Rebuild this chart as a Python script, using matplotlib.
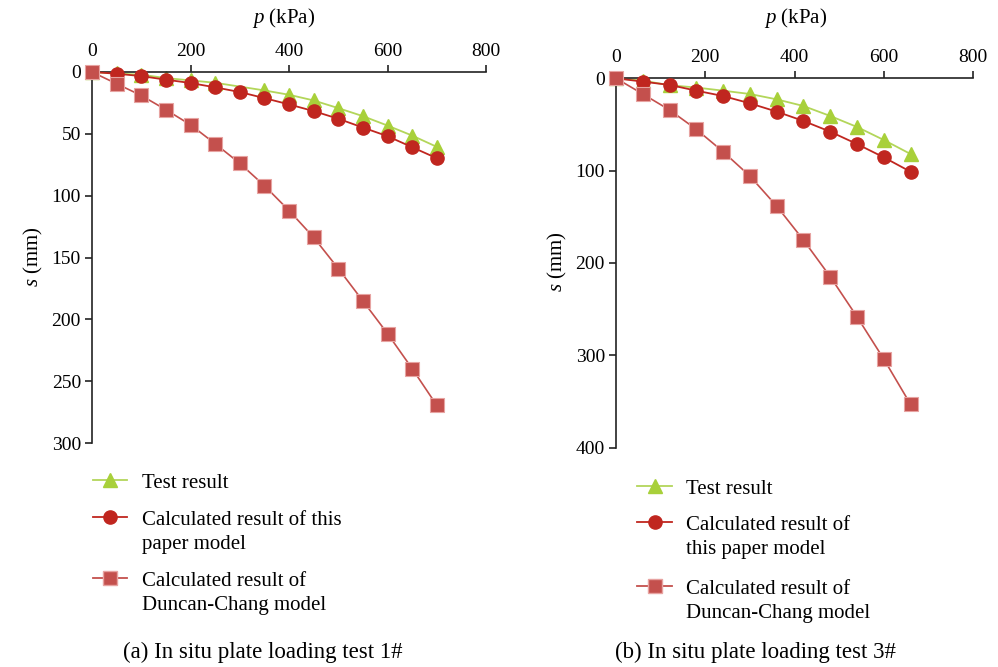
import matplotlib
matplotlib.use("Agg")
import matplotlib.pyplot as plt
from matplotlib.lines import Line2D

plt.rcParams['font.family'] = 'Liberation Serif'
plt.rcParams['mathtext.fontset'] = 'custom'
plt.rcParams['mathtext.it'] = 'Liberation Serif:italic'
plt.rcParams['mathtext.rm'] = 'Liberation Serif'

# test 1#
p1 = [0, 50, 100, 150, 200, 250, 300, 350, 400, 450, 500, 550, 600, 650, 700]
p1_test = [0, 50, 100, 150, 200, 250, 350, 400, 450, 500, 550, 600, 650, 700]
s1_test = [0, 1.2, 2.2, 4.9, 6.8, 8.7, 14.9, 18.4, 23.0, 29.2, 35.7, 43.3, 51.4, 60.5]
s1_model = [0, 1.4, 3.3, 6.2, 8.9, 12.4, 16.2, 21.1, 26.2, 31.6, 37.8, 44.9, 51.9, 60.8, 69.7]
s1_dc = [0, 9.5, 19.0, 30.5, 42.7, 58.0, 73.8, 91.9, 112.0, 133.7, 158.9, 185.1, 211.5, 239.8, 269.5]

# test 3#
p2 = [0, 60, 120, 180, 240, 300, 360, 420, 480, 540, 600, 660]
s2_test = [0, 2.5, 7.5, 10.0, 13.4, 17.0, 22.8, 30.0, 40.8, 52.7, 66.8, 82.0]
s2_model = [0, 3.6, 7.2, 13.4, 19.2, 27.1, 36.1, 46.2, 57.8, 71.2, 85.6, 101.2]
s2_dc = [0, 17.0, 34.3, 55.3, 79.5, 105.9, 138.4, 175.2, 214.9, 258.3, 304.1, 353.2]

labels_a = ["Test result", "Calculated result of this\npaper model", "Calculated result of\nDuncan-Chang model"]
labels_b = ["Test result", "Calculated result of\nthis paper model", "Calculated result of\nDuncan-Chang model"]

green, green_line = '#A8D03A', '#B3D65A'
red = '#C0261F'
brick, brick_edge = '#C4504D', '#E7A3A1'

W, H = 998, 667
fig = plt.figure(figsize=(W / 100, H / 100), dpi=100)


def fx(x):
    return x / W


def fy(y):
    return 1 - y / H


def panel(rect, px, s_test, px_test, s_model, s_dc, ymax, yticks):
    ax = fig.add_axes(rect)
    ax.plot(px_test, s_test, color=green_line, lw=1.3, marker='^', ms=10,
            mfc=green, mec=green, zorder=2, clip_on=False)
    ax.plot(px, s_model, color=red, lw=1.3, marker='o', ms=9.5,
            mfc=red, mec=red, zorder=3, clip_on=False)
    ax.plot(px, s_dc, color=brick, lw=1.2, marker='s', ms=9.5,
            mfc=brick, mec=brick_edge, mew=0.8, zorder=4, clip_on=False)
    ax.set_xlim(0, 800)
    ax.set_ylim(ymax, 0)
    ax.set_xticks([0, 200, 400, 600, 800])
    ax.set_yticks(yticks)
    ax.xaxis.tick_top()
    ax.spines['bottom'].set_visible(False)
    ax.spines['right'].set_visible(False)
    for sp in ('top', 'left'):
        ax.spines[sp].set_linewidth(1.2)
        ax.spines[sp].set_color('#222222')
    ax.tick_params(axis='both', direction='out', length=5, width=1.2,
                   color='#222222', labelsize=14)
    ax.tick_params(axis='x', pad=4)
    ax.tick_params(axis='y', pad=3)
    return ax


ax1 = panel([fx(92), fy(443), fx(486) - fx(92), fy(72) - fy(443)],
            p1, s1_test, p1_test, s1_model, s1_dc, 300, [0, 50, 100, 150, 200, 250, 300])
ax2 = panel([fx(616), fy(447.5), fx(973) - fx(616), fy(78.3) - fy(447.5)],
            p2, s2_test, p2, s2_model, s2_dc, 400, [0, 100, 200, 300, 400])

for cx, sx, sy in [(284, 33, 257), (796, 557, 262)]:
    fig.text(fx(cx), fy(18), r'$p$ (kPa)', ha='center', va='center', fontsize=15)
    fig.text(fx(sx), fy(sy), r'$s$ (mm)', ha='center', va='center', fontsize=15, rotation=90)


def legend(x0, x1, xt, rows, labels):
    styles = [dict(color=green_line, marker='^', mfc=green, mec=green, ms=10),
              dict(color=red, marker='o', mfc=red, mec=red, ms=9.5),
              dict(color=brick, marker='s', mfc=brick, mec=brick_edge, ms=9.5)]
    for y, lab, st in zip(rows, labels, styles):
        fig.add_artist(Line2D([fx(x0), fx(x1)], [fy(y), fy(y)], lw=1.3,
                              color=st['color'], transform=fig.transFigure))
        fig.add_artist(Line2D([fx((x0 + x1) / 2)], [fy(y)], lw=0,
                              marker=st['marker'], mfc=st['mfc'], mec=st['mec'],
                              ms=st['ms'], transform=fig.transFigure))
        fig.text(fx(xt), fy(y - 6), lab, ha='left', va='top', fontsize=15,
                 linespacing=1.38, transform=fig.transFigure)


legend(93, 127, 142, [480, 517, 578], labels_a)
legend(637, 672, 686, [486, 522, 586], labels_b)

fig.text(fx(263), fy(652), '(a) In situ plate loading test 1#', ha='center', va='center', fontsize=16.5)
fig.text(fx(755), fy(652), '(b) In situ plate loading test 3#', ha='center', va='center', fontsize=16.5)

fig.savefig('out.png', dpi=100)
